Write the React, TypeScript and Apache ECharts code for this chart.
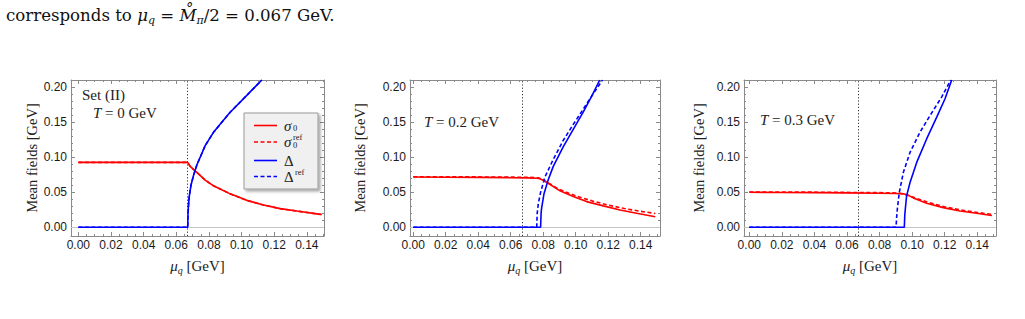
import React, { useEffect, useRef } from "react";
import * as echarts from "echarts";

// ---------- data ----------
const xMajorTicks = [0, 0.02, 0.04, 0.06, 0.08, 0.1, 0.12, 0.14];
const xMinorTicks = [0.005, 0.01, 0.015, 0.025, 0.03, 0.035, 0.045, 0.05, 0.055, 0.065, 0.07, 0.075, 0.085, 0.09, 0.095, 0.105, 0.11, 0.115, 0.125, 0.13, 0.135, 0.145, 0.15];
const yMajorTicks = [0, 0.05, 0.1, 0.15, 0.2];
const yMinorTicks = [0.01, 0.02, 0.03, 0.04, 0.06, 0.07, 0.08, 0.09, 0.11, 0.12, 0.13, 0.14, 0.16, 0.17, 0.18, 0.19];

const criticalMu = 0.067;
const panelTemps = ["0", "0.2", "0.3"];

// T = 0
const sigmaT0 = [[0, 0.0927], [0.067, 0.0927], [0.0685, 0.087], [0.0726, 0.0784], [0.0777, 0.0675], [0.0828, 0.0593], [0.093, 0.0478], [0.1032, 0.0385], [0.1134, 0.0318], [0.1237, 0.0267], [0.1339, 0.0232], [0.1472, 0.0188], [0.149, 0.0183]];
const sigmaRefT0 = [[0, 0.0927], [0.067, 0.0927], [0.0685, 0.087], [0.0726, 0.0784], [0.0777, 0.0675], [0.0828, 0.0593], [0.093, 0.0478], [0.1032, 0.0385], [0.1134, 0.0318], [0.1237, 0.0267], [0.1339, 0.0232], [0.1472, 0.0188], [0.149, 0.0183]];
const deltaT0 = [[0, 0], [0.067, 0], [0.0672, 0.02], [0.0675, 0.032], [0.068, 0.045], [0.069, 0.06], [0.0705, 0.0736], [0.0726, 0.089], [0.0777, 0.1166], [0.0828, 0.1357], [0.093, 0.1644], [0.1032, 0.1884], [0.1124, 0.2104]];
const deltaRefT0 = [[0, 0], [0.067, 0], [0.0672, 0.02], [0.0675, 0.032], [0.068, 0.045], [0.069, 0.06], [0.0705, 0.0736], [0.0726, 0.089], [0.0777, 0.1166], [0.0828, 0.1357], [0.093, 0.1644], [0.1032, 0.1884], [0.1124, 0.2104]];

// T = 0.2 GeV
const sigmaT02 = [[0, 0.0718], [0.02, 0.0716], [0.04, 0.0713], [0.06, 0.0709], [0.07, 0.0706], [0.076, 0.07], [0.078, 0.0693], [0.0805, 0.0665], [0.0831, 0.063], [0.0903, 0.0521], [0.0985, 0.0439], [0.1067, 0.0367], [0.117, 0.0306], [0.1273, 0.0248], [0.1375, 0.0201], [0.149, 0.0152]];
const sigmaRefT02 = [[0, 0.0722], [0.04, 0.072], [0.07, 0.0715], [0.077, 0.0708], [0.08, 0.068], [0.083, 0.0635], [0.09, 0.054], [0.1, 0.0448], [0.11, 0.0378], [0.12, 0.0318], [0.13, 0.0268], [0.14, 0.0228], [0.149, 0.0198]];
const deltaT02 = [[0, 0], [0.0784, 0], [0.0787, 0.02], [0.079, 0.027], [0.0805, 0.048], [0.0831, 0.068], [0.0862, 0.087], [0.0923, 0.115], [0.0985, 0.14], [0.1047, 0.165], [0.1098, 0.187], [0.1148, 0.2104]];
const deltaRefT02 = [[0, 0], [0.076, 0], [0.0763, 0.02], [0.077, 0.034], [0.0784, 0.05], [0.0811, 0.072], [0.0862, 0.097], [0.0923, 0.124], [0.0985, 0.147], [0.1047, 0.169], [0.11, 0.188], [0.1165, 0.2104]];

// T = 0.3 GeV
const sigmaT03 = [[0, 0.05], [0.02, 0.0498], [0.04, 0.0495], [0.06, 0.0492], [0.08, 0.0487], [0.09, 0.0483], [0.0946, 0.0478], [0.0975, 0.046], [0.1007, 0.042], [0.1089, 0.0344], [0.1191, 0.0281], [0.1294, 0.0234], [0.1396, 0.0201], [0.1478, 0.0172], [0.149, 0.0168]];
const sigmaRefT03 = [[0, 0.0505], [0.04, 0.0502], [0.08, 0.0495], [0.092, 0.049], [0.095, 0.0475], [0.1, 0.0435], [0.11, 0.0355], [0.12, 0.0292], [0.13, 0.0247], [0.14, 0.0212], [0.149, 0.0185]];
const deltaT03 = [[0, 0], [0.0952, 0], [0.0955, 0.018], [0.0958, 0.0258], [0.0966, 0.0449], [0.0987, 0.064], [0.1028, 0.0927], [0.1089, 0.1262], [0.1151, 0.1573], [0.1202, 0.1836], [0.1243, 0.2104]];
const deltaRefT03 = [[0, 0], [0.0901, 0], [0.0905, 0.015], [0.0909, 0.0258], [0.0921, 0.0497], [0.0946, 0.0784], [0.0987, 0.107], [0.1048, 0.1357], [0.111, 0.1597], [0.1181, 0.186], [0.1237, 0.2104]];

const panelData = [
  { sigma: sigmaT0, sigmaRef: sigmaRefT0, delta: deltaT0, deltaRef: deltaRefT0 },
  { sigma: sigmaT02, sigmaRef: sigmaRefT02, delta: deltaT02, deltaRef: deltaRefT02 },
  { sigma: sigmaT03, sigmaRef: sigmaRefT03, delta: deltaT03, deltaRef: deltaRefT03 },
];

// ---------- layout / style ----------
const GRIDS = [
  { left: 71, top: 80, width: 253, height: 156, xMin: -0.0045, xMax: 0.1505, yNameGap: 32 },
  { left: 410, top: 80, width: 250, height: 156, xMin: -0.002, xMax: 0.1519, yNameGap: 43 },
  { left: 744, top: 80, width: 252, height: 156, xMin: -0.00325, xMax: 0.1515, yNameGap: 38 },
];
const Y_MIN = -0.0124;
const Y_MAX = 0.2104;
const FRAME = "#8a8a8a";
const SERIF = "'Liberation Serif', 'DejaVu Serif', serif";
const SANS = "'Liberation Sans', Arial, sans-serif";
const RED = "#ff0000";
const BLUE = "#0000ff";
const LW = 1.6;
const DASH = [4, 2.5];

function fmt(v: number) {
  return Math.abs(v) < 1e-9 ? "0.00" : v.toFixed(2);
}

function xAxesFor(i: number, g: any) {
  const base: any = {
    type: "value", gridIndex: i, min: g.xMin, max: g.xMax,
    splitLine: { show: false }, axisPointer: { show: false },
  };
  const minor = xMinorTicks.filter((v) => v > g.xMin && v < g.xMax);
  const line = { show: true, onZero: false, lineStyle: { color: FRAME, width: 1 } };
  return [
    {
      ...base, position: "bottom", axisLine: line,
      axisTick: { show: true, inside: true, length: 4, customValues: xMajorTicks, lineStyle: { color: FRAME } },
      axisLabel: { show: true, customValues: xMajorTicks, formatter: fmt, margin: 3, fontFamily: SANS, fontSize: 12, color: "#1a1a1a", hideOverlap: false },
      name: "{i|μ}{s|q} [GeV]", nameLocation: "middle", nameGap: 21, nameMoveOverlap: false,
      nameTextStyle: {
        fontFamily: SERIF, fontSize: 15, color: "#222", lineHeight: 18,
        rich: {
          i: { fontFamily: SERIF, fontStyle: "italic", fontSize: 15, color: "#222", lineHeight: 18 },
          s: { fontFamily: SERIF, fontStyle: "italic", fontSize: 10, color: "#222", lineHeight: 10, verticalAlign: "bottom" },
        },
      },
    },
    {
      ...base, position: "bottom", axisLine: { show: false, onZero: false },
      axisTick: { show: true, inside: true, length: 2, customValues: minor, lineStyle: { color: FRAME } },
      axisLabel: { show: false },
    },
    {
      ...base, position: "top", axisLine: line,
      axisTick: { show: true, inside: true, length: 4, customValues: xMajorTicks, lineStyle: { color: FRAME } },
      axisLabel: { show: false },
    },
    {
      ...base, position: "top", axisLine: { show: false, onZero: false },
      axisTick: { show: true, inside: true, length: 2, customValues: minor, lineStyle: { color: FRAME } },
      axisLabel: { show: false },
    },
  ];
}

function yAxesFor(i: number, g: any) {
  const base: any = {
    type: "value", gridIndex: i, min: Y_MIN, max: Y_MAX,
    splitLine: { show: false }, axisPointer: { show: false },
  };
  const line = { show: true, onZero: false, lineStyle: { color: FRAME, width: 1 } };
  return [
    {
      ...base, position: "left", axisLine: line,
      axisTick: { show: true, inside: true, length: 4, customValues: yMajorTicks, lineStyle: { color: FRAME } },
      axisLabel: { show: true, customValues: yMajorTicks, formatter: fmt, margin: 4, fontFamily: SANS, fontSize: 12, color: "#1a1a1a", hideOverlap: false },
      name: "Mean fields [GeV]", nameLocation: "middle", nameGap: g.yNameGap, nameRotate: 90, nameMoveOverlap: false,
      nameTextStyle: { fontFamily: SERIF, fontSize: 14.5, color: "#222" },
    },
    {
      ...base, position: "left", axisLine: { show: false, onZero: false },
      axisTick: { show: true, inside: true, length: 2, customValues: yMinorTicks, lineStyle: { color: FRAME } },
      axisLabel: { show: false },
    },
    {
      ...base, position: "right", axisLine: line,
      axisTick: { show: true, inside: true, length: 4, customValues: yMajorTicks, lineStyle: { color: FRAME } },
      axisLabel: { show: false },
    },
    {
      ...base, position: "right", axisLine: { show: false, onZero: false },
      axisTick: { show: true, inside: true, length: 2, customValues: yMinorTicks, lineStyle: { color: FRAME } },
      axisLabel: { show: false },
    },
  ];
}

function seriesFor(i: number) {
  const d = panelData[i];
  const common = { type: "line", xAxisIndex: 4 * i, yAxisIndex: 4 * i, showSymbol: false, symbol: "none", clip: true, smooth: false, silent: true };
  return [
    {
      ...common, name: "sigma" + i, data: d.sigma, z: 2,
      lineStyle: { color: RED, width: LW },
      markLine: {
        z: 1, silent: true, precision: 6, symbol: ["none", "none"], label: { show: false }, animation: false,
        data: [
          { xAxis: criticalMu, lineStyle: { color: "#333", type: [1.2, 2], width: 1 } },
          { yAxis: 0, lineStyle: { color: "#c4c4c4", type: "solid", width: 1 } },
        ],
      },
    },
    { ...common, name: "sigmaRef" + i, data: d.sigmaRef, z: 2, lineStyle: { color: RED, width: LW, type: DASH } },
    { ...common, name: "deltaRef" + i, data: d.deltaRef, z: 3, lineStyle: { color: BLUE, width: LW, type: DASH } },
    { ...common, name: "delta" + i, data: d.delta, z: 3, lineStyle: { color: BLUE, width: LW } },
  ];
}

function legendGraphics() {
  const els: any[] = [];
  els.push({
    type: "rect", shape: { x: 244, y: 113, width: 74, height: 76 }, z: 10,
    style: { fill: "#f0f0f0", stroke: "#9a9a9a", lineWidth: 1, shadowBlur: 3, shadowOffsetX: 2, shadowOffsetY: 2, shadowColor: "rgba(0,0,0,0.35)" },
  });
  const rows = [
    { y: 125.5, color: RED, dash: null, sym: "σ", italic: true, sub: "0", sup: "" },
    { y: 142, color: RED, dash: DASH, sym: "σ", italic: true, sub: "0", sup: "ref" },
    { y: 160.5, color: BLUE, dash: null, sym: "Δ", italic: false, sub: "", sup: "" },
    { y: 176.5, color: BLUE, dash: DASH, sym: "Δ", italic: false, sub: "", sup: "ref" },
  ];
  const small = { fontFamily: SERIF, fontSize: 8.5, lineHeight: 8, fill: "#222", verticalAlign: "middle", align: "left" };
  rows.forEach((r) => {
    els.push({
      type: "line", z: 11, shape: { x1: 254, y1: r.y, x2: 277, y2: r.y },
      style: { stroke: r.color, lineWidth: LW, lineDash: r.dash || undefined },
    });
    els.push({
      type: "text", z: 11, x: 284, y: r.y,
      style: { text: r.sym, fontFamily: SERIF, fontSize: 15, lineHeight: 13, fontStyle: r.italic ? "italic" : "normal", fill: "#222", verticalAlign: "middle", align: "left" },
    });
    const off = r.italic ? 9 : 11;
    if (r.sub && r.sup) {
      // stacked superscript over subscript, one text block
      els.push({ type: "text", z: 11, x: 284 + off, y: r.y - 1.5, style: { ...small, text: r.sup + "\n" + r.sub } });
    } else if (r.sub) {
      els.push({ type: "text", z: 11, x: 284 + off, y: r.y + 2.5, style: { ...small, lineHeight: 7, text: r.sub } });
    } else if (r.sup) {
      els.push({ type: "text", z: 11, x: 284 + off, y: r.y - 4.5, style: { ...small, lineHeight: 7, text: r.sup } });
    }
  });
  return els;
}

function annotationGraphics() {
  const tRich = {
    i: { fontFamily: SERIF, fontStyle: "italic", fontSize: 15, fill: "#222" },
  };
  const base = { fontFamily: SERIF, fontSize: 15, fill: "#222", verticalAlign: "middle", align: "left" };
  const CAP = "'DejaVu Serif', serif";
  const CF = 16.6;
  return [
    {
      type: "text", x: 6, y: 15,
      style: {
        text: "corresponds to {i|μ}{s|q} = {i|M\u030A}{s|π}/2 = 0.067 GeV.",
        fontFamily: CAP, fontSize: CF, fill: "#111", verticalAlign: "middle", align: "left", lineHeight: 21,
        rich: {
          i: { fontFamily: CAP, fontStyle: "italic", fontSize: CF, fill: "#111", lineHeight: 21 },
          s: { fontFamily: CAP, fontStyle: "italic", fontSize: 11, fill: "#111", lineHeight: 11, verticalAlign: "bottom" },
        },
      },
    },
    { type: "text", x: 82, y: 95, style: { ...base, text: "Set (II)" } },
    { type: "text", x: 93, y: 113, style: { ...base, text: "{i|T} = " + panelTemps[0] + " GeV", rich: tRich } },
    { type: "text", x: 424, y: 121.5, style: { ...base, text: "{i|T} = " + panelTemps[1] + " GeV", rich: tRich } },
    { type: "text", x: 760, y: 120, style: { ...base, text: "{i|T} = " + panelTemps[2] + " GeV", rich: tRich } },
  ];
}

function buildOption(): any {
  const grid = GRIDS.map((g) => ({
    left: g.left, top: g.top, width: g.width, height: g.height,
    containLabel: false, outerBoundsMode: "none", show: false,
  }));
  const xAxis: any[] = [];
  const yAxis: any[] = [];
  const series: any[] = [];
  GRIDS.forEach((g, i) => {
    xAxis.push(...xAxesFor(i, g));
    yAxis.push(...yAxesFor(i, g));
    series.push(...seriesFor(i));
  });
  return {
    animation: false,
    backgroundColor: "#ffffff",
    tooltip: { show: false },
    legend: { show: false },
    grid, xAxis, yAxis, series,
    graphic: [...annotationGraphics(), ...legendGraphics()],
  };
}

export default function App() {
  const ref = useRef<HTMLDivElement>(null);
  useEffect(() => {
    if (!ref.current) return;
    const chart = echarts.init(ref.current, null, { renderer: "svg", width: 1025, height: 319 });
    chart.setOption(buildOption());
    return () => chart.dispose();
  }, []);
  return (
    <div
      ref={ref}
      style={{ position: "absolute", left: 0, top: 0, width: 1025, height: 319, background: "#fff" }}
    />
  );
}
